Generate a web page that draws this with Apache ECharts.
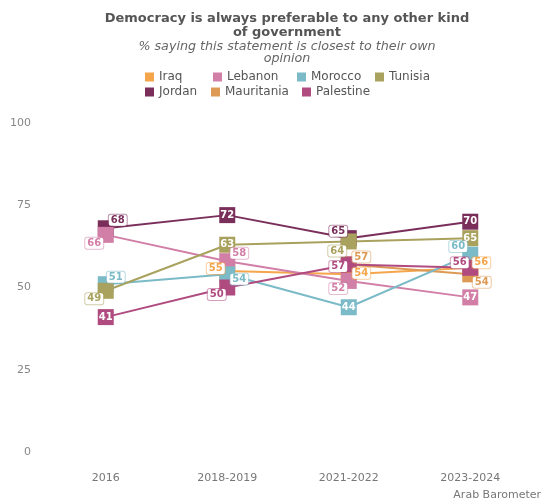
<!DOCTYPE html>
<html>
<head>
<meta charset="utf-8">
<script src="https://cdn.jsdelivr.net/npm/echarts@6/dist/echarts.min.js"></script>
<style>
  html, body { margin: 0; padding: 0; background: #fff; }
  #chart { width: 542px; height: 504px; }
</style>
</head>
<body>
<div id="chart"></div>
<script>
// Survey waves
const categories = ['2016', '2018-2019', '2021-2022', '2023-2024'];

// % saying democracy is always preferable, by country and wave
const iraq = [null, 55, 54, 56];
const jordan = [68, 72, 65, 70];
const lebanon = [66, 58, 52, 47];
const mauritania = [null, null, 57, 54];
const morocco = [51, 54, 44, 60];
const palestine = [41, 50, 57, 56];
const tunisia = [49, 63, 64, 65];

// Value axis ticks
const yTicks = [0, 25, 50, 75, 100];

const FONT = '"DejaVu Sans", sans-serif';

const countries = [
  { name: 'Iraq', values: iraq, color: '#F5A54A' },
  { name: 'Jordan', values: jordan, color: '#7A2F5B' },
  { name: 'Lebanon', values: lebanon, color: '#D17FA7' },
  { name: 'Mauritania', values: mauritania, color: '#DD9A55' },
  { name: 'Morocco', values: morocco, color: '#7BBAC7' },
  { name: 'Palestine', values: palestine, color: '#B04B80' },
  { name: 'Tunisia', values: tunisia, color: '#A9A25E' }
];

// Where each value label sits relative to its marker: 'c' = centred on it,
// otherwise a pixel offset [dx, dy] for a boxed label beside the marker.
const labelPlacement = {
  Iraq:       [null, [-11.5, -2.5], [12.5, -1], [11, -5]],
  Jordan:     [[12, -8], 'c', [-10.5, -7], 'c'],
  Lebanon:    [[-11.5, 8.5], [12, -8], [-10.5, 7.5], 'c'],
  Mauritania: [null, null, [12.5, -7.5], [11.5, 8]],
  Morocco:    [[10, -7], [12, 5], 'c', [-12, -8]],
  Palestine:  ['c', [-10.5, 7], [-10.5, 2], [-10.5, -5]],
  Tunisia:    [[-11.5, 8], 'c', [-11.5, 9.5], 'c']
};

// Legend grid: two rows, alphabetical down the columns
const legendSlots = {
  Iraq: [145, 71], Lebanon: [213, 71], Morocco: [297, 71], Tunisia: [375, 71],
  Jordan: [145, 86], Mauritania: [211, 86], Palestine: [302, 86]
};

function buildData(c) {
  return c.values.map((v, i) => {
    if (v === null) return null;
    const place = labelPlacement[c.name][i];
    if (place === 'c') {
      return {
        value: v,
        label: {
          show: true, position: 'inside', offset: [0, 0],
          color: '#fff', fontWeight: 'bold', fontSize: 10, fontFamily: FONT
        }
      };
    }
    return {
      value: v,
      label: {
        show: true, position: 'inside', offset: place,
        color: c.color, fontWeight: 'bold', fontSize: 10, fontFamily: FONT,
        backgroundColor: '#fff', borderColor: c.color + '88', borderWidth: 1,
        borderRadius: 2, padding: [1, 2, 0, 2]
      }
    };
  });
}

const series = countries.map(c => ({
  name: c.name,
  type: 'line',
  data: buildData(c),
  symbol: 'rect',
  symbolSize: 16,
  showAllSymbol: true,
  lineStyle: { width: 2, color: c.color },
  itemStyle: { color: c.color },
  emphasis: { disabled: true },
  animation: false
}));

const legends = countries.map(c => ({
  left: legendSlots[c.name][0],
  top: legendSlots[c.name][1],
  data: [c.name],
  icon: 'rect', itemWidth: 9, itemHeight: 9, padding: 0,
  textStyle: { color: '#555', fontSize: 12, fontFamily: FONT },
  selectedMode: false
}));

const chart = echarts.init(document.getElementById('chart'), null, { renderer: 'canvas' });
chart.setOption({
  backgroundColor: '#fff',
  animation: false,
  title: {
    text: 'Democracy is always preferable to any other kind\nof government',
    subtext: '% saying this statement is closest to their own\nopinion',
    left: 287, top: 12, padding: 0, itemGap: 0, textAlign: 'center',
    textStyle: { color: '#555', fontSize: 13, fontWeight: 'bold', lineHeight: 14, fontFamily: FONT },
    subtextStyle: { color: '#666', fontSize: 12.7, fontStyle: 'italic', lineHeight: 12.5, fontFamily: FONT }
  },
  legend: legends,
  grid: { left: 45, right: 11, top: 123, bottom: 52 },
  xAxis: {
    type: 'category',
    data: categories,
    boundaryGap: true,
    axisLine: { show: false },
    axisTick: { show: false },
    axisLabel: { color: '#777', fontSize: 11, margin: 21, fontFamily: FONT },
    splitLine: { show: false }
  },
  yAxis: {
    type: 'value',
    min: yTicks[0], max: yTicks[yTicks.length - 1], interval: yTicks[1] - yTicks[0],
    axisLine: { show: false },
    axisTick: { show: false },
    splitLine: { show: false },
    axisLabel: { color: '#888', fontSize: 11, margin: 14, fontFamily: FONT }
  },
  graphic: [{
    type: 'text', right: 1, top: 490,
    style: { text: 'Arab Barometer', fill: '#777', fontSize: 11, fontFamily: FONT }
  }],
  series: series
});
</script>
</body>
</html>
